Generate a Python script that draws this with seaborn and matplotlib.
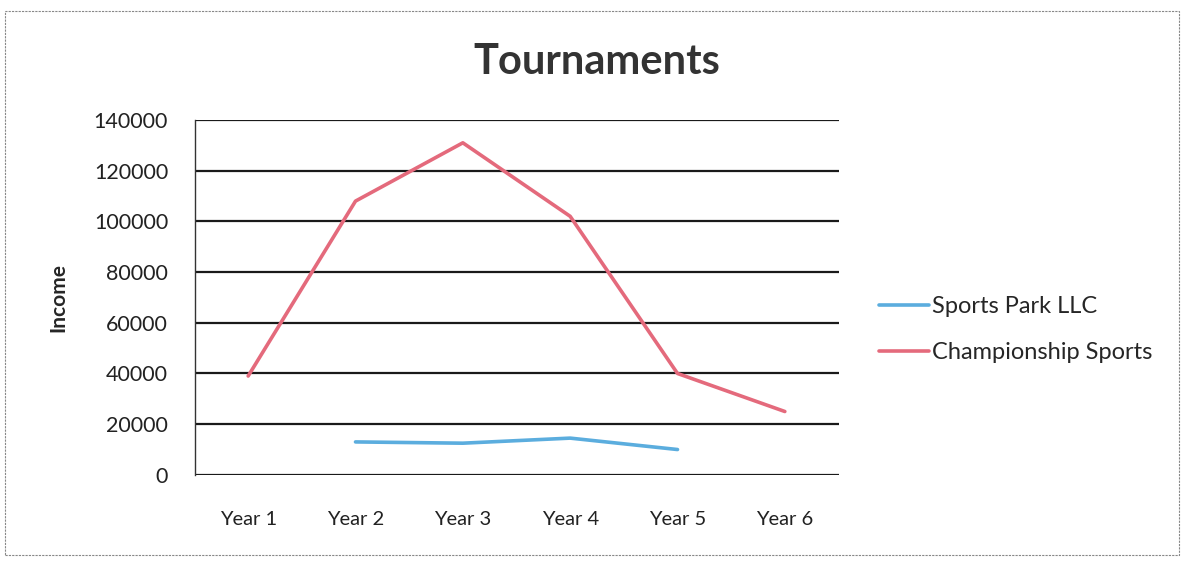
import numpy as np
import pandas as pd
import matplotlib.pyplot as plt
import seaborn as sns
from matplotlib.patches import Rectangle

years = ["Year 1", "Year 2", "Year 3", "Year 4", "Year 5", "Year 6"]
sports_park = [np.nan, 13000, 12500, 14500, 10000, np.nan]
championship = [39000, 108000, 131000, 102000, 40000, 25000]
y_ticks = [0, 20000, 40000, 60000, 80000, 100000, 120000, 140000]

df = pd.DataFrame({
    "pos": list(range(len(years))) * 2,
    "Income": sports_park + championship,
    "series": ["Sports Park LLC"] * 6 + ["Championship Sports"] * 6,
}).dropna()

sns.set_style("white")
plt.rcParams["font.family"] = ["Lato", "DejaVu Sans"]

fig = plt.figure(figsize=(11.86, 5.66), dpi=100)
ax = fig.add_axes([0.164, 0.161, 0.543, 0.627])

palette = {"Sports Park LLC": "#5badde", "Championship Sports": "#e46a7c"}
sns.lineplot(data=df, x="pos", y="Income", hue="series", palette=palette,
             linewidth=2.6, ax=ax, legend=True)

ax.set_xlim(-0.5, 5.5)
ax.set_ylim(0, 140000)
ax.set_yticks(y_ticks)
ax.set_yticklabels([str(v) for v in y_ticks], fontsize=15.5, color="#222222")
ax.set_xticks(range(len(years)))
ax.set_xticklabels(years, fontsize=14.5, color="#222222")
ax.tick_params(axis="x", length=0, pad=26)
ax.tick_params(axis="y", length=0, pad=19)
ax.grid(axis="y", color="#1a1a1a", linewidth=1.6)
ax.set_axisbelow(True)
for s in ["top", "right", "bottom"]:
    ax.spines[s].set_visible(False)
ax.spines["left"].set_color("#333333")
ax.spines["left"].set_linewidth(1.0)
ax.set_xlabel("")
ax.set_ylabel("Income", fontsize=15, fontweight="bold", labelpad=18)

fig.suptitle("Tournaments", x=0.503, y=0.89, va="center", fontsize=30,
             fontweight="bold", color="#333333")

leg = ax.legend(loc="center left", bbox_to_anchor=(1.03, 0.41), frameon=False,
                fontsize=17, handlelength=2.1, handletextpad=0.15,
                labelspacing=1.05)

fig.patches.append(Rectangle((0.004, 0.02), 0.99, 0.96, transform=fig.transFigure,
                             fill=False, edgecolor="#888888", linewidth=0.8,
                             linestyle=(0, (2, 1))))

fig.savefig("out.png", dpi=100)
